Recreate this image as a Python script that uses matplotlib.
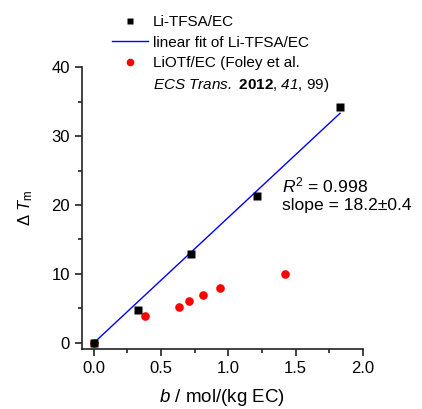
import matplotlib
matplotlib.use('Agg')
import matplotlib.pyplot as plt
import matplotlib.lines as mlines
from matplotlib.ticker import MultipleLocator
import numpy as np

plt.rcParams['font.family'] = 'Liberation Sans'
plt.rcParams['mathtext.fontset'] = 'custom'
plt.rcParams['mathtext.rm'] = 'Liberation Sans'
plt.rcParams['mathtext.it'] = 'Liberation Sans:italic'
plt.rcParams['mathtext.bf'] = 'Liberation Sans:bold'
# sf used as an italic that also slants digits
plt.rcParams['mathtext.sf'] = 'Liberation Sans:italic'

# Li-TFSA/EC (this work)
tfsa_b = [0.0, 0.33, 0.72, 1.21, 1.83]
tfsa_dt = [0.0, 4.7, 12.9, 21.3, 34.2]

# LiOTf/EC (Foley et al.)
otf_b = [0.0, 0.38, 0.63, 0.71, 0.81, 0.94, 1.42]
otf_dt = [0.0, 3.9, 5.2, 6.1, 6.9, 7.9, 10.0]

slope = 18.2
fit_b = [0.0, 1.83]

fig = plt.figure(figsize=(4.22, 4.09), dpi=100)
ax = fig.add_axes([0.194, 0.147, 0.666, 0.689])

fit_y = [slope * x for x in fit_b]
ax.plot(fit_b, fit_y, color='blue', lw=1.0, zorder=2)
ax.plot(otf_b, otf_dt, 'o', color='red', ms=6.2, mec='none', zorder=3)
ax.plot(tfsa_b, tfsa_dt, 's', color='black', ms=5.6, mec='none', zorder=4)

ax.set_xlim(-0.089, 2.0)
ax.set_ylim(-0.87, 40)
ax.xaxis.set_major_locator(MultipleLocator(0.5))
ax.xaxis.set_minor_locator(MultipleLocator(0.25))
ax.yaxis.set_major_locator(MultipleLocator(10))
ax.yaxis.set_minor_locator(MultipleLocator(5))
ax.set_xticks([0.0, 0.5, 1.0, 1.5, 2.0])
ax.set_xticklabels(['0.0', '0.5', '1.0', '1.5', '2.0'])

for s in ['top', 'right']:
    ax.spines[s].set_visible(False)
for s in ['left', 'bottom']:
    ax.spines[s].set_linewidth(1.2)
    ax.spines[s].set_color('#222222')
ax.tick_params(which='major', direction='out', length=5, width=1.2, labelsize=12, colors='#222222')
ax.tick_params(which='minor', direction='out', length=3, width=1.2, colors='#222222')
ax.tick_params(labelcolor='black')

ax.set_xlabel(r'$\mathit{b}$ / mol/(kg EC)', fontsize=13.5, labelpad=8)
ax.set_ylabel(r'$\Delta$ $\mathit{T}_{\rm m}$', fontsize=12, labelpad=12)

ax.text(1.40, 22.9, r'$\mathit{R}^2$ = 0.998', fontsize=12.6, va='center')
ax.text(1.40, 19.9, 'slope = 18.2' + '\u00b1' + '0.4', fontsize=12.6, va='center')

h1 = mlines.Line2D([], [], ls='none', marker='s', color='black', ms=4.5, mec='none')
h2 = mlines.Line2D([], [], color='blue', lw=1.0)
h3 = mlines.Line2D([], [], ls='none', marker='o', color='red', ms=5.5, mec='none')
h4 = mlines.Line2D([], [], ls='none')
leg = fig.legend(handles=[h1, h2, h3, h4],
                 labels=['Li-TFSA/EC', 'linear fit of Li-TFSA/EC', 'LiOTf/EC (Foley et al.',
                         r'$\mathsf{ECS\ Trans.}$ $\mathbf{2012}$, $\mathsf{41}$, 99)'],
                 loc='upper left', bbox_to_anchor=(0.25, 0.978), frameon=False,
                 fontsize=11, handlelength=2.4, handletextpad=0.3, labelspacing=0.42,
                 borderaxespad=0)

fig.savefig('out.png', dpi=100)
